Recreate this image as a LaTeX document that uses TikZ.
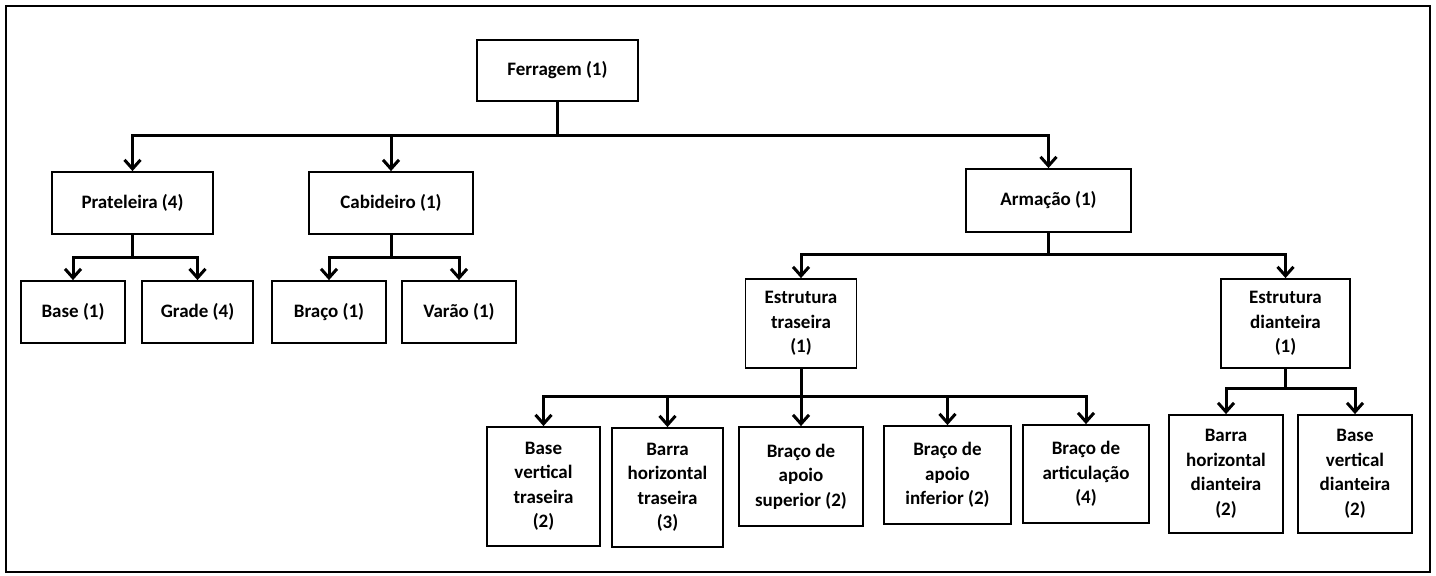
\documentclass[tikz,border=0pt]{standalone}
\usepackage{fontspec}
\setmainfont{Carlito}
\usetikzlibrary{arrows.meta}
\begin{document}
\begin{tikzpicture}[x=1pt,y=-1pt,
  box/.style={draw, line width=1.8pt, inner sep=0pt, align=center,
    font=\fontsize{19}{24.5}\selectfont\bfseries},
  stem/.style={line width=3pt},
  conn/.style={line width=3pt, line join=miter, -{Straight Barb[length=9pt,width=16pt]}},
]
\useasboundingbox (0,0) rectangle (1436,576);
\draw[line width=1.5pt] (6,6) rectangle (1430,572);

% level 0
\node[box, minimum width=161pt, minimum height=61pt] (fer) at (557.5,70.5) {Ferragem (1)};
% level 1
\node[box, minimum width=161pt, minimum height=62pt] (pra) at (132.5,203) {Prateleira (4)};
\node[box, minimum width=164pt, minimum height=62pt] (cab) at (391,203) {Cabideiro (1)};
\node[box, minimum width=165pt, minimum height=63pt] (arm) at (1048.5,200.5) {Armação (1)};
% level 2
\node[box, minimum width=104pt, minimum height=62pt] (base1) at (73,312) {Base (1)};
\node[box, minimum width=111pt, minimum height=62pt] (grade) at (197.5,312) {Grade (4)};
\node[box, minimum width=114pt, minimum height=62pt] (braco1) at (329,312) {Braço (1)};
\node[box, minimum width=114pt, minimum height=62pt] (varao) at (459,312) {Varão (1)};
\node[box, minimum width=111pt, minimum height=89pt] (et) at (801,323.5) {Estrutura\\traseira\\(1)};
\node[box, minimum width=129pt, minimum height=89pt] (ed) at (1285.5,323.5) {Estrutura\\dianteira\\(1)};
% level 3
\node[box, minimum width=113pt, minimum height=119pt] (b1) at (543.5,486.5) {Base\\vertical\\traseira\\(2)};
\node[box, minimum width=111pt, minimum height=119pt] (b2) at (667.5,487.5) {Barra\\horizontal\\traseira\\(3)};
\node[box, minimum width=124pt, minimum height=99pt] (b3) at (801,476.5) {Braço de\\apoio\\superior (2)};
\node[box, minimum width=127pt, minimum height=98pt] (b4) at (947.5,475) {Braço de\\apoio\\inferior (2)};
\node[box, minimum width=126pt, minimum height=98pt] (b5) at (1086,474) {Braço de\\articulação\\(4)};
\node[box, minimum width=114pt, minimum height=118pt] (b6) at (1226,474) {Barra\\horizontal\\dianteira\\(2)};
\node[box, minimum width=114pt, minimum height=118pt] (b7) at (1355,474) {Base\\vertical\\dianteira\\(2)};

% bus points
\coordinate (bfer) at (557.5,135);
\coordinate (bpra) at (132.5,257);
\coordinate (bcab) at (391,257);
\coordinate (barm) at (1048.5,254);
\coordinate (bet) at (801,396);
\coordinate (bed) at (1285.5,388);

% connectors
\draw[stem] (fer.south) -- (bfer);
\draw[conn] (bfer) -| (pra.north);
\draw[conn] (bfer) -| (cab.north);
\draw[conn] (bfer) -| (arm.north);

\draw[stem] (pra.south) -- (bpra);
\draw[conn] (bpra) -| (base1.north);
\draw[conn] (bpra) -| (grade.north);

\draw[stem] (cab.south) -- (bcab);
\draw[conn] (bcab) -| (braco1.north);
\draw[conn] (bcab) -| (varao.north);

\draw[stem] (arm.south) -- (barm);
\draw[conn] (barm) -| (et.north);
\draw[conn] (barm) -| (ed.north);

\draw[stem] (et.south) -- (bet);
\draw[conn] (bet) -| (b1.north);
\draw[conn] (bet) -| (b2.north);
\draw[conn] (bet) -- (b3.north);
\draw[conn] (bet) -| (b4.north);
\draw[conn] (bet) -| (b5.north);

\draw[stem] (ed.south) -- (bed);
\draw[conn] (bed) -| (b6.north);
\draw[conn] (bed) -| (b7.north);
\end{tikzpicture}
\end{document}
